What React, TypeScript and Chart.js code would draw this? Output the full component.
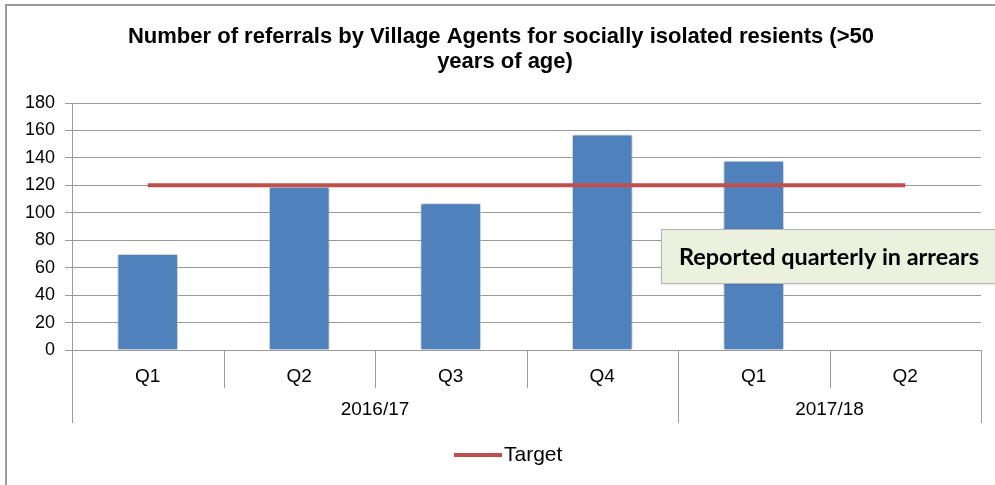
import React, { useEffect, useRef } from "react";
import { Chart, registerables } from "chart.js";

Chart.register(...registerables);

const quarters = ["Q1", "Q2", "Q3", "Q4", "Q1", "Q2"];
const years = ["2016/17", "2016/17", "2016/17", "2016/17", "2017/18", "2017/18"];
const referrals: (number | null)[] = [70, 119, 107, 157, 138, null];
const target = [120, 120, 120, 120, 120, 120];
const yMin = 0;
const yMax = 180;
const yStep = 20;
const titleLines = [
  "Number of referrals by Village Agents for socially isolated resients (>50",
  "years of age)",
];
const legendLabel = "Target";
const noteText = "Reported quarterly in arrears";

const FONT = "'Liberation Sans', Arial, sans-serif";

const decorPlugin = {
  id: "decor",
  beforeDraw(chart: any) {
    const { ctx, width, height } = chart;
    ctx.save();
    ctx.fillStyle = "#ffffff";
    ctx.fillRect(0, 0, width, height);
    // outer frame
    ctx.strokeStyle = "#9a9a9a";
    ctx.lineWidth = 2;
    ctx.beginPath();
    ctx.moveTo(6, height + 2);
    ctx.lineTo(6, 5);
    ctx.lineTo(width + 2, 5);
    ctx.stroke();
    // title
    ctx.fillStyle = "#000";
    ctx.font = `bold 22px ${FONT}`;
    ctx.textAlign = "center";
    ctx.textBaseline = "middle";
    ctx.fillText(titleLines[0], 501, 37);
    ctx.fillText(titleLines[1], 505, 62);
    ctx.restore();
  },
  beforeDatasetDraw(chart: any, args: any) {
    if (args.meta.type === "bar") {
      const ctx = chart.ctx;
      ctx.save();
      ctx.shadowColor = "rgba(0,0,0,0.35)";
      ctx.shadowBlur = 4;
      ctx.shadowOffsetX = 0;
      ctx.shadowOffsetY = 0;
    }
  },
  afterDatasetDraw(chart: any, args: any) {
    if (args.meta.type === "bar") chart.ctx.restore();
  },
  afterDraw(chart: any) {
    const { ctx, chartArea } = chart;
    const xs = chart.scales.x;
    const n = quarters.length;
    const bottom = chartArea.bottom;
    const left = chartArea.left;
    const right = chartArea.right;
    const row1 = bottom + 38;
    const row2 = bottom + 73;
    const bounds: number[] = [left];
    for (let i = 0; i < n - 1; i++) {
      bounds.push((xs.getPixelForValue(i) + xs.getPixelForValue(i + 1)) / 2);
    }
    bounds.push(right);
    ctx.save();
    ctx.strokeStyle = "#9a9a9a";
    ctx.lineWidth = 1;
    for (let i = 0; i <= n; i++) {
      const x = Math.round(bounds[i]) + 0.5;
      const isEdge = i === 0 || i === n || years[i] !== years[i - 1];
      ctx.beginPath();
      ctx.moveTo(x, bottom);
      ctx.lineTo(x, isEdge ? row2 : row1);
      ctx.stroke();
    }
    ctx.fillStyle = "#000";
    ctx.font = `19px ${FONT}`;
    ctx.textAlign = "center";
    ctx.textBaseline = "middle";
    for (let i = 0; i < n; i++) {
      ctx.fillText(quarters[i], xs.getPixelForValue(i), bottom + 27);
    }
    // year groups
    let start = 0;
    for (let i = 1; i <= n; i++) {
      if (i === n || years[i] !== years[start]) {
        const cx = (bounds[start] + bounds[i]) / 2;
        ctx.fillText(years[start], cx, bottom + 60);
        start = i;
      }
    }
    // legend
    ctx.strokeStyle = "#C0504D";
    ctx.lineWidth = 4;
    ctx.beginPath();
    ctx.moveTo(454, 455);
    ctx.lineTo(502, 455);
    ctx.stroke();
    ctx.font = `21px ${FONT}`;
    ctx.textAlign = "left";
    ctx.fillText(legendLabel, 504, 455);

    // note box
    const bx = 661.5, by = 229.5, bw = 340, bh = 54;
    ctx.shadowColor = "rgba(0,0,0,0.25)";
    ctx.shadowBlur = 3;
    ctx.fillStyle = "#EBF1DE";
    ctx.fillRect(bx, by, bw, bh);
    ctx.shadowColor = "transparent";
    ctx.shadowBlur = 0;
    ctx.strokeStyle = "#B3B3B3";
    ctx.lineWidth = 1;
    ctx.strokeRect(bx, by, bw, bh);
    ctx.fillStyle = "#000";
    let fs = 20;
    ctx.font = `bold ${fs}px Lato, ${FONT}`;
    const w = ctx.measureText(noteText).width;
    fs = fs * (300 / w);
    ctx.font = `bold ${fs.toFixed(2)}px Lato, ${FONT}`;
    ctx.textAlign = "center";
    ctx.fillText(noteText, 829, 257);
    ctx.restore();
  },
};

export default function App() {
  const ref = useRef<HTMLCanvasElement>(null);
  useEffect(() => {
    if (!ref.current) return;
    const chart = new Chart(ref.current, {
      type: "bar",
      data: {
        labels: quarters.map((q, i) => `${q} ${years[i]}`),
        datasets: [
          {
            type: "line",
            label: legendLabel,
            data: target,
            borderColor: "#C0504D",
            backgroundColor: "#C0504D",
            borderWidth: 4,
            pointRadius: 0,
            order: 0,
          } as any,
          {
            type: "bar",
            label: "Referrals",
            data: referrals,
            backgroundColor: "#4F81BD",
            borderColor: "rgba(255,255,255,0.6)",
            borderWidth: 1,
            barPercentage: 0.4,
            categoryPercentage: 1,
            order: 1,
          },
        ],
      },
      options: {
        animation: false,
        responsive: false,
        maintainAspectRatio: false,
        layout: { padding: { left: 0, top: 103, right: 14, bottom: 135 } },
        plugins: {
          legend: { display: false },
          title: { display: false },
          tooltip: { enabled: false },
        },
        scales: {
          x: {
            type: "category",
            offset: true,
            grid: { display: false, drawTicks: false },
            border: { display: false },
            ticks: { display: false },
            afterFit: (s: any) => {
              s.height = 0;
            },
          },
          y: {
            min: yMin,
            max: yMax,
            grid: { color: "#9a9a9a", tickLength: 7, lineWidth: 1 },
            border: { display: true, color: "#9a9a9a" },
            ticks: {
              stepSize: yStep,
              padding: 10,
              color: "#000",
              font: { family: FONT, size: 18 },
            },
            afterFit: (s: any) => {
              s.width = 72;
            },
          },
        },
      },
      plugins: [decorPlugin],
    });
    return () => chart.destroy();
  }, []);
  return (
    <div style={{ position: "absolute", left: 0, top: 0, width: 995, height: 485 }}>
      <canvas ref={ref} width={995} height={485} style={{ width: 995, height: 485 }} />
    </div>
  );
}
